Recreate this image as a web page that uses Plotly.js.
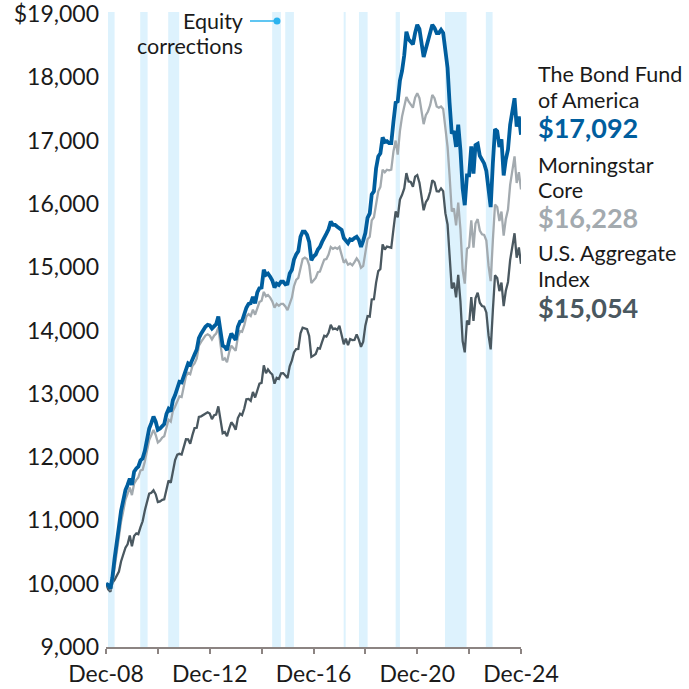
<!DOCTYPE html>
<html>
<head>
<meta charset="utf-8">
<script src="https://cdn.plot.ly/plotly-3.0.1.min.js"></script>
<style>
html,body{margin:0;padding:0;background:#fff;}
#chart{width:689px;height:689px;}
</style>
</head>
<body>
<div id="chart"></div>
<script>
// Monthly values, Dec-08 .. Dec-24 (hypothetical $10,000 investment)
const bondFund = [
10000,
9980,9920,10100,10400,10700,10900,11150,11320,11480,11560,11660,11560,
11770,11820,11850,11950,11980,12100,12270,12450,12540,12640,12560,12430,
12450,12500,12520,12680,12760,12720,12900,12980,13080,13190,13180,13280,
13420,13480,13460,13560,13620,13700,13880,13950,14020,14060,14090,14080,
14030,14080,14100,14220,13980,13760,13740,13690,13850,13950,13900,13850,
14060,14140,14150,14260,14360,14420,14430,14530,14430,14600,14670,14680,
14960,14880,14900,14850,14790,14680,14740,14720,14770,14770,14730,14740,
14900,14960,15120,15200,15250,15480,15560,15560,15510,15400,15110,15170,
15200,15280,15320,15400,15480,15530,15600,15720,15670,15670,15640,15610,
15590,15460,15430,15380,15440,15430,15460,15480,15430,15320,15420,15540,
15780,15850,16150,16200,16560,16750,16800,17050,16980,16990,16960,16960,
17300,17600,17620,17950,18100,18350,18720,18600,18560,18520,18700,18830,
18760,18500,18320,18450,18560,18700,18830,18780,18700,18700,18750,18700,
18420,18150,17600,17110,17150,16900,17250,16850,16250,15980,16450,16450,
16910,16480,16930,16950,16760,16680,16640,16520,16150,15950,16650,17180,
17150,16900,17020,16450,16700,16860,17250,17480,17670,17220,17380,17092
];
const morningstarCore = [
10000,
9960,9900,10020,10250,10520,10720,10980,11150,11330,11420,11520,11400,
11580,11640,11680,11790,11800,11930,12100,12270,12350,12430,12350,12230,
12260,12310,12330,12480,12590,12560,12730,12800,12870,12960,12950,13100,
13280,13330,13310,13440,13480,13560,13760,13820,13880,13920,13940,13920,
13860,13920,13950,14050,13780,13530,13560,13500,13660,13760,13720,13680,
13900,13990,13980,14080,14220,14260,14230,14330,14250,14360,14450,14470,
14610,14540,14560,14520,14460,14360,14420,14390,14420,14420,14380,14320,
14430,14520,14700,14800,14830,15010,15130,15150,15130,15030,14750,14790,
14830,14920,14930,15030,15120,15130,15200,15320,15290,15310,15290,15320,
15200,15070,15110,15040,15060,15030,15080,15140,15090,14990,15020,15210,
15440,15480,15740,15790,15980,16200,16270,16540,16500,16540,16530,16540,
16830,17000,16780,17150,17380,17540,17690,17620,17560,17520,17680,17750,
17670,17480,17260,17400,17460,17560,17720,17670,17540,17520,17540,17500,
17180,16900,16450,15880,15930,15660,16020,15600,14960,14740,15290,15320,
15740,15310,15690,15760,15580,15520,15510,15420,15020,14780,15430,15990,
15950,15730,15880,15500,15760,15910,16300,16530,16750,16330,16500,16228
];
const usAggregate = [
10000,
9912,9874,10012,10060,10132,10191,10351,10459,10568,10623,10761,10593,
10754,10795,10782,10894,10986,11158,11276,11423,11436,11477,11412,11289,
11301,11326,11334,11478,11629,11596,11780,11952,12039,12052,12041,12174,
12281,12279,12211,12347,12458,12463,12635,12644,12662,12687,12707,12689,
12600,12663,12673,12801,12573,12378,12395,12332,12449,12550,12504,12433,
12617,12684,12662,12768,12914,12920,12888,13030,12941,13068,13161,13173,
13450,13324,13385,13337,13305,13160,13252,13234,13324,13327,13292,13250,
13433,13528,13653,13705,13709,13956,14044,14029,14020,13914,13584,13603,
13630,13721,13714,13820,13917,13903,13963,14089,14021,14030,14011,14076,
13914,13782,13870,13767,13865,13848,13851,13940,13851,13741,13823,14077,
14226,14218,14491,14495,14753,14939,14972,15360,15279,15325,15317,15306,
15600,15881,15787,16068,16144,16245,16487,16354,16346,16272,16431,16454,
16336,16101,15900,16026,16079,16191,16373,16342,16200,16195,16244,16202,
15854,15676,15240,14663,14757,14525,14880,14459,13834,13654,14156,14092,
14526,14150,14509,14598,14439,14387,14377,14285,13922,13702,14323,14871,
14831,14622,14757,14384,14628,14767,15113,15331,15536,15151,15312,15054
];

// Equity correction periods (shaded)
const correctionStart = ['2008-12-29','2010-03-28','2011-04-26','2015-04-29','2015-10-30','2018-01-30','2018-09-02','2020-02-01','2021-12-27','2023-07-25'];
const correctionEnd   = ['2009-04-01','2010-07-10','2011-09-28','2015-08-30','2016-02-29','2018-02-27','2019-01-02','2020-04-01','2022-10-27','2023-10-28'];

// Axis ticks
const xTickVals = ['2008-12-01','2010-12-01','2012-12-01','2014-12-01','2016-12-01','2018-12-01','2020-12-01','2022-12-01','2024-12-01'];
const xTickText = ['Dec-08','','Dec-12','','Dec-16','','Dec-20','','Dec-24'];
const yTickVals = [9000,10000,11000,12000,13000,14000,15000,16000,17000,18000,19000];
const yTickText = ['9,000','10,000','11,000','12,000','13,000','14,000','15,000','16,000','17,000','18,000','$19,000'];

const seriesNames = [['The Bond Fund','of America'],['Morningstar','Core'],['U.S. Aggregate','Index']];

// month dates
const months = [];
for (let i = 0; i < bondFund.length; i++) {
  const y = 2008 + Math.floor((11 + i) / 12);
  const mo = (11 + i) % 12 + 1;
  months.push(y + '-' + String(mo).padStart(2, '0') + '-01');
}

const C_BLUE = '#005e9e', C_GRAY = '#a3aaaf', C_DARK = '#4a5860';
const FONT = 'Lato, "Open Sans", sans-serif';

const traces = [
  {x: months, y: usAggregate, type: 'scatter', mode: 'lines', line: {color: C_DARK, width: 2.3}, hoverinfo: 'skip'},
  {x: months, y: morningstarCore, type: 'scatter', mode: 'lines', line: {color: C_GRAY, width: 2.3}, hoverinfo: 'skip'},
  {x: months, y: bondFund, type: 'scatter', mode: 'lines', line: {color: C_BLUE, width: 3.8}, hoverinfo: 'skip'}
];

const L = 106, R = 521, T = 14, B = 647;
const px = v => (v - L) / (R - L);
const py = v => (B - v) / (B - T);

const shapes = correctionStart.map((s, i) => ({
  type: 'rect', xref: 'x', yref: 'paper', x0: s, x1: correctionEnd[i], y0: 0, y1: py(12),
  fillcolor: '#ddf2fd', line: {width: 0}, layer: 'below'
}));
shapes.push({type: 'line', xref: 'paper', yref: 'paper', x0: px(250), x1: px(277), y0: py(21), y1: py(21), line: {color: '#2bb3ee', width: 1.5}});
shapes.push({type: 'circle', xref: 'paper', yref: 'paper', xsizemode: 'pixel', ysizemode: 'pixel', xanchor: px(277), yanchor: py(21), x0: -3.5, x1: 3.5, y0: -3.5, y1: 3.5, fillcolor: '#2bb3ee', line: {width: 0}});

const fmt = v => '$' + v.toLocaleString('en-US');
const finals = [bondFund[bondFund.length-1], morningstarCore[morningstarCore.length-1], usAggregate[usAggregate.length-1]];
const colors = [C_BLUE, C_GRAY, C_DARK];
const labelY = [[74, 100, 127.5], [165, 190, 217.5], [253, 279, 307]];

const annotations = [];
seriesNames.forEach((nm, i) => {
  annotations.push({xref:'paper', yref:'paper', x: px(536), y: py(labelY[i][0]), xanchor:'left', yanchor:'middle', showarrow:false, text: nm[0], font:{family:FONT, size:21.5, color:'#1a1a1a'}});
  annotations.push({xref:'paper', yref:'paper', x: px(536), y: py(labelY[i][1]), xanchor:'left', yanchor:'middle', showarrow:false, text: nm[1], font:{family:FONT, size:21.5, color:'#1a1a1a'}});
  annotations.push({xref:'paper', yref:'paper', x: px(536), y: py(labelY[i][2]), xanchor:'left', yanchor:'middle', showarrow:false, text: '<b>' + fmt(finals[i]) + '</b>', font:{family:FONT, size:27, color: colors[i]}});
});
annotations.push({xref:'paper', yref:'paper', x: px(245), y: py(21), xanchor:'right', yanchor:'middle', showarrow:false, text:'Equity', font:{family:FONT, size:21.5, color:'#1a1a1a'}});
annotations.push({xref:'paper', yref:'paper', x: px(245), y: py(46.5), xanchor:'right', yanchor:'middle', showarrow:false, text:'corrections', font:{family:FONT, size:21.5, color:'#1a1a1a'}});

const layout = {
  width: 689, height: 689,
  margin: {l: L, r: 689 - R, t: T, b: 689 - B},
  paper_bgcolor: '#fff', plot_bgcolor: '#fff',
  showlegend: false,
  font: {family: FONT, color: '#1a1a1a'},
  xaxis: {
    type: 'date', range: ['2008-12-01', '2024-12-01'],
    tickmode: 'array', tickvals: xTickVals, ticktext: xTickText,
    showgrid: false, zeroline: false,
    showline: true, linecolor: '#8c8482', linewidth: 2,
    ticks: 'outside', ticklen: 5, tickwidth: 2, tickcolor: '#8c8482',
    ticklabeloverflow: 'allow',
    tickfont: {family: FONT, size: 23, color: '#1a1a1a'}
  },
  yaxis: {
    range: [9000, 19000],
    tickmode: 'array', tickvals: yTickVals, ticktext: yTickText,
    showgrid: false, zeroline: false, showline: false, ticks: '',
    ticklabelstandoff: 6, ticklabeloverflow: 'allow',
    tickfont: {family: FONT, size: 23, color: '#1a1a1a'}
  },
  shapes: shapes,
  annotations: annotations
};

Plotly.newPlot('chart', traces, layout, {staticPlot: true, displayModeBar: false});
</script>
</body>
</html>
